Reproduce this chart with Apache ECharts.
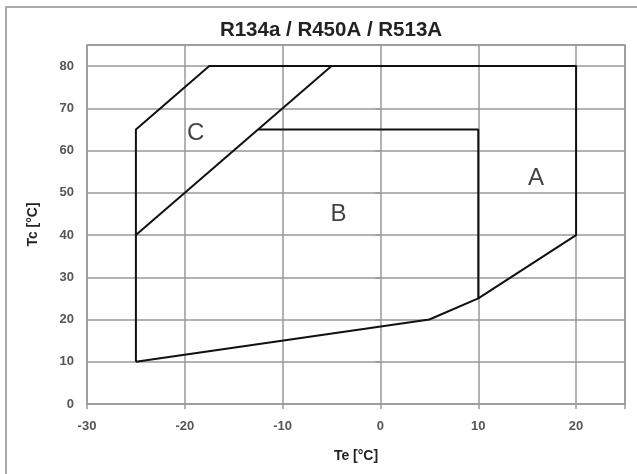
<!DOCTYPE html>
<html><head><meta charset="utf-8">
<script src="https://cdn.jsdelivr.net/npm/echarts@6/dist/echarts.min.js"></script>
<style>html,body{margin:0;padding:0;background:#fff}#c{width:637px;height:474px}</style>
</head><body><div id="c"></div>
<script>
// Envelope outline (Te, Tc)
const envelopeTe = [-25, 5, 10, 20, 20, -17.5, -25, -25];
const envelopeTc = [10, 20, 25, 40, 80, 80, 65, 10];
// Boundary between C and the rest
const boundaryCTe = [-25, -5];
const boundaryCTc = [40, 80];
// Boundary of zone B
const boundaryBTe = [-12.5, 10, 10];
const boundaryBTc = [65, 65, 25];
// Zone labels
const zoneNames = ['A', 'B', 'C'];
const zoneTe = [15.9, -4.3, -18.9];
const zoneTc = [53.5, 45, 64];
const xTicks = [-30, -20, -10, 0, 10, 20];
const yTicks = [0, 10, 20, 30, 40, 50, 60, 70, 80];

const pairs = (xs, ys) => xs.map((x, i) => [x, ys[i]]);
const font = 'Arial, "Liberation Sans", sans-serif';
const lineStyle = { color: '#111', width: 2 };
const chart = echarts.init(document.getElementById('c'), null, { renderer: 'canvas' });
chart.setOption({
  animation: false,
  backgroundColor: '#fff',
  title: {
    text: 'R134a / R450A / R513A', left: 326, top: 15, textAlign: 'center',
    textStyle: { fontFamily: font, fontWeight: 'bold', fontSize: 20.5, color: '#222' }
  },
  graphic: [{
    type: 'rect', shape: { x: 6, y: 7, width: 700, height: 600 },
    style: { fill: 'none', stroke: '#aaa', lineWidth: 2 }, silent: true, z: -1
  }],
  grid: { left: 87, right: 12, top: 45, bottom: 70, show: true, borderColor: '#999', borderWidth: 1.5 },
  xAxis: {
    type: 'value', min: -30, max: 25, interval: 10,
    name: 'Te [°C]', nameLocation: 'middle', nameGap: 45,
    nameTextStyle: { fontFamily: font, fontWeight: 'bold', fontSize: 14, color: '#222' },
    axisLine: { show: false },
    axisTick: { show: true, length: 5, lineStyle: { color: '#999', width: 1.5 } },
    axisLabel: { fontFamily: font, fontWeight: 'bold', fontSize: 13, color: '#555', margin: 16,
      formatter: v => xTicks.includes(v) ? String(v) : '' },
    splitLine: { lineStyle: { color: '#999', width: 1.5 } }
  },
  yAxis: {
    type: 'value', min: 0, max: 85, interval: 10,
    name: 'Tc [°C]', nameLocation: 'middle', nameGap: 47, nameRotate: 90,
    nameTextStyle: { fontFamily: font, fontWeight: 'bold', fontSize: 14, color: '#222' },
    axisLine: { show: false },
    axisTick: { show: true, length: 5, lineStyle: { color: '#999', width: 1.5 } },
    axisLabel: { fontFamily: font, fontWeight: 'bold', fontSize: 13, color: '#555', margin: 13,
      formatter: v => yTicks.includes(v) ? String(v) : '' },
    splitLine: { lineStyle: { color: '#999', width: 1.5 } }
  },
  series: [
    { type: 'line', data: pairs(envelopeTe, envelopeTc), symbol: 'none', lineStyle },
    { type: 'line', data: pairs(boundaryCTe, boundaryCTc), symbol: 'none', lineStyle },
    { type: 'line', data: pairs(boundaryBTe, boundaryBTc), symbol: 'none', lineStyle },
    { type: 'scatter', symbolSize: 1, itemStyle: { color: 'transparent' },
      data: zoneNames.map((n, i) => ({ value: [zoneTe[i], zoneTc[i]], name: n })),
      label: { show: true, position: 'inside', formatter: p => p.name,
        fontFamily: font, fontSize: 24, color: '#111' } }
  ]
});
</script></body></html>
